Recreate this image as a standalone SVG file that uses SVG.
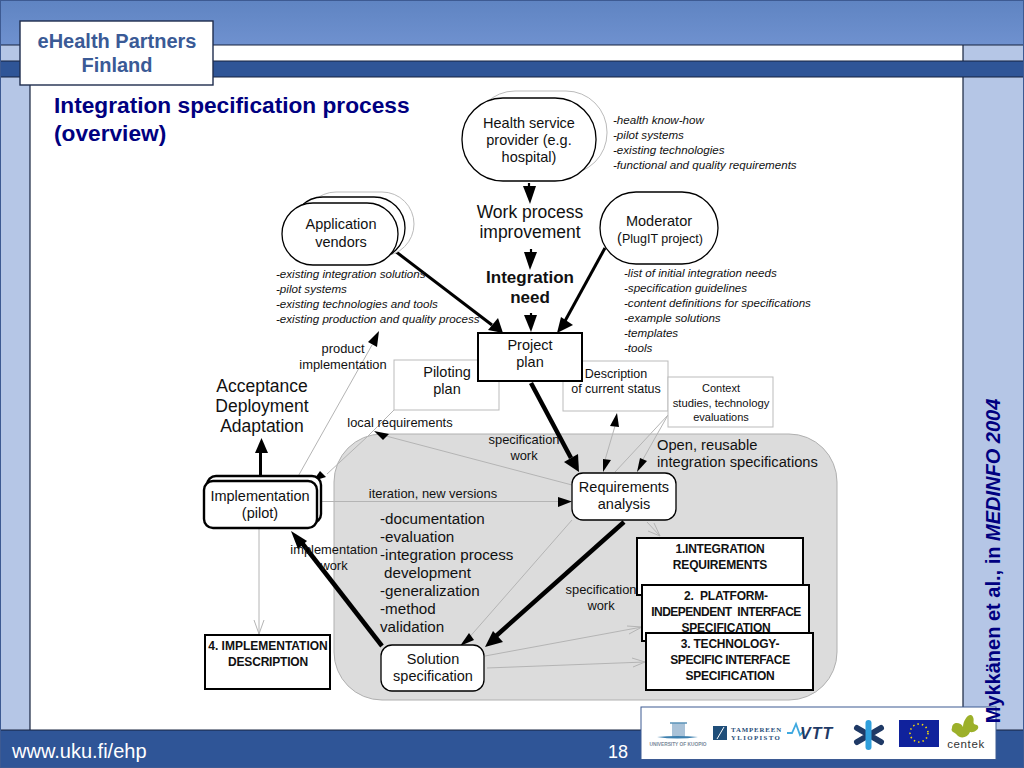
<svg xmlns="http://www.w3.org/2000/svg" width="1024" height="768" viewBox="0 0 1024 768">
<style>
text{font-family:"Liberation Sans",Arial,sans-serif;fill:#111;text-anchor:middle;white-space:pre}
.l{text-anchor:start}
.i{font-size:11.6px;font-style:italic;text-anchor:start}
.s{font-size:12.9px}
.m{font-size:14.5px}
.b{font-size:12px;font-weight:bold;letter-spacing:-.2px}
.big{font-size:17.5px}
.li{font-size:15.2px;text-anchor:start}
.white{fill:#fff;stroke:#000;stroke-width:1.3}
.thick{fill:#fff;stroke:#000;stroke-width:2.4}
.ghost{fill:#fff;stroke:#bbb;stroke-width:1}
.g{fill:none;stroke:#b4b4b4;stroke-width:1}
.k1{fill:none;stroke:#000;stroke-width:2.2}
.k2{fill:none;stroke:#000;stroke-width:3}
.k3{fill:none;stroke:#000;stroke-width:4.5}
.h{fill:#000;stroke:none}
.doc{fill:#fff;stroke:#000;stroke-width:2}
</style>
<defs>
<linearGradient id="top" x1="0" y1="0" x2="0" y2="1"><stop offset="0" stop-color="#5f84c2"/><stop offset="1" stop-color="#6f91cf"/></linearGradient>
</defs>
<g id="frame">
<rect width="1024" height="768" fill="#fff"/>
<rect x="0" y="0" width="30" height="768" fill="#b5c6e6"/>
<rect x="963" y="0" width="61" height="768" fill="#b5c6e6"/>
<rect x="0" y="0" width="1024" height="45" fill="url(#top)"/>
<path d="M0 45H1024M30 77V730M963 45V730" fill="none" stroke="#17233f" stroke-width="1.2"/>
<rect x="0" y="61" width="1024" height="16" fill="#2f5597" stroke="#17233f" stroke-width="1"/>
<rect x="0" y="730" width="1024" height="38" fill="#2f5597"/>
<path d="M0 730H1024" stroke="#17233f" stroke-width="1"/>
<rect x="0.5" y="0.5" width="1023" height="767" fill="none" stroke="#3d5a92"/>
</g>
<g id="title-box">
<rect x="20" y="21" width="193" height="64" fill="#fff" stroke="#1f2d4d" stroke-width="1.4"/>
<text x="117" y="48" font-size="18" font-weight="bold" style="fill:#3a5a96;font-size:20px">eHealth Partners</text>
<text x="117" y="72" font-size="18" font-weight="bold" style="fill:#3a5a96;font-size:20px">Finland</text>
</g>
<text class="l" x="54" y="113" font-size="22.7" font-weight="bold" style="fill:#000080">Integration specification process</text>
<text class="l" x="54" y="141" font-size="22.7" font-weight="bold" style="fill:#000080">(overview)</text>
<text class="l" x="12" y="758" font-size="20" style="fill:#fff">www.uku.fi/ehp</text>
<text x="618" y="758" font-size="18" style="fill:#fff">18</text>

<rect id="work-area" x="334" y="434" width="503" height="266" rx="48" ry="48" fill="#dcdcdc" stroke="#b0b0b0"/>

<g id="connectors">
<path class="g" d="M296 480L372 345"/>
<path class="h" d="M379 331L368 342L377 347Z"/>
<path class="g" d="M394 410L367 437L327 474"/>
<path class="h" d="M313 481L326 477L320 471Z"/>
<path class="g" d="M572 485L386 436"/>
<path class="h" d="M374 431L389 434L383 440Z"/>
<path class="g" d="M320 501.5H560"/>
<path class="h" d="M572 501.5L558 497V507Z"/>
<path class="g" d="M259 528V634"/>
<path class="g" d="M254 620L259 634L264 620"/>
<path class="g" d="M572 520L467 640"/>
<path class="h" d="M460 646L469 633L474 640Z"/>
<path class="g" d="M615 426L605 460"/>
<path class="h" d="M617 413L610 426L619 427Z"/>
<path class="h" d="M603 472L603 459L611 460Z"/>
<path class="g" d="M668 415L615 472"/>
<path class="g" d="M668 415L642 461"/>
<path class="h" d="M637 472L640 458L647 461Z"/>
<path class="g" d="M647 522L660 536M648 531L660 536L654 523"/>
<path class="g" d="M485 656L642 627M627 626L642 627L629 634"/>
<path class="g" d="M487 668L645 662M632 658L645 662L633 667"/>
<g id="black-arrows">
<path class="k1" d="M529 183V189"/><path class="h" d="M523 186H536L530 204Z"/>
<path class="k1" d="M531 249V254"/><path class="h" d="M524 252H537L530 270Z"/>
<path class="k1" d="M531 313V318"/><path class="h" d="M524 315H537L531 332Z"/>
<path class="k2" d="M395 251L492 325"/><path class="h" d="M503 333L488 330L498 318Z"/>
<path class="k2" d="M605 248L565 321"/><path class="h" d="M557 333L561 317L573 325Z"/>
<path class="k3" d="M531 383L571 458"/><path class="h" d="M579 472L564 462L578 454Z"/>
<path class="k3" d="M624 522L496 636"/><path class="h" d="M485 647L493 631L503 642Z"/>
<path class="k3" d="M382 646L302 543"/><path class="h" d="M291 531L307 541L298 549Z"/>
<path class="k2" d="M260.500 480V450"/><path class="h" d="M261.500 438L268 453H255Z"/>
</g>
</g>

<g id="health-provider">
<rect class="ghost" x="474" y="91" width="133" height="83" rx="41" ry="41"/>
<rect class="white" x="462" y="98" width="134" height="83" rx="41" ry="41"/>
<text class="m" x="529" y="128">Health service</text>
<text class="m" x="529" y="145">provider (e.g.</text>
<text class="m" x="529" y="162">hospital)</text>
</g>
<g id="application-vendors">
<rect class="ghost" x="304" y="192" width="110" height="64" rx="32" ry="32"/>
<rect class="white" x="292" y="197" width="113" height="62" rx="31" ry="31"/>
<rect class="white" x="282" y="203" width="116" height="62" rx="31" ry="31"/>
<text class="m" x="341" y="229">Application</text>
<text class="m" x="341" y="247">vendors</text>
</g>
<g id="moderator">
<rect class="white" x="600" y="192" width="118" height="72" rx="36" ry="36"/>
<text class="m" x="659" y="226">Moderator</text>
<text class="m" x="660" y="243">(<tspan font-size="12.500">PlugIT project)</tspan></text>
</g>
<g id="provider-notes">
<text class="i" x="613" y="124">-health know-how</text>
<text class="i" x="613" y="139">-pilot systems</text>
<text class="i" x="613" y="154">-existing technologies</text>
<text class="i" x="613" y="169">-functional and quality requirements</text>
</g>
<g id="vendor-notes">
<text class="i" x="276" y="278">-existing integration solutions</text>
<text class="i" x="276" y="293">-pilot systems</text>
<text class="i" x="276" y="308">-existing technologies and tools</text>
<text class="i" x="276" y="323">-existing production and quality process</text>
</g>
<g id="moderator-notes">
<text class="i" x="624" y="277">-list of initial integration needs</text>
<text class="i" x="624" y="292">-specification guidelines</text>
<text class="i" x="624" y="307">-content definitions for specifications</text>
<text class="i" x="624" y="322">-example solutions</text>
<text class="i" x="624" y="337">-templates</text>
<text class="i" x="624" y="352">-tools</text>
</g>
<text class="big" x="530" y="218">Work process</text>
<text class="big" x="530" y="238">improvement</text>
<text x="530" y="283" font-size="17" font-weight="bold">Integration</text>
<text x="530" y="303" font-size="17" font-weight="bold">need</text>
<g id="piloting-plan">
<rect class="ghost" x="394" y="360" width="105" height="50"/>
<text class="m" x="447" y="377">Piloting</text>
<text class="m" x="447" y="394">plan</text>
</g>
<g id="current-status">
<rect class="ghost" x="563" y="361" width="105" height="50"/>
<text x="616" y="378" font-size="12.5">Description</text>
<text x="616" y="393" font-size="12.5">of current status</text>
</g>
<g id="context">
<rect class="ghost" x="668" y="377" width="105" height="50"/>
<text x="721" y="392" font-size="11">Context</text>
<text x="721" y="407" font-size="11.3">studies, technology</text>
<text x="721" y="421" font-size="11">evaluations</text>
</g>
<g id="project-plan">
<rect fill="#fff" stroke="#000" stroke-width="2" x="478" y="333" width="104" height="48"/>
<text class="m" x="530" y="350">Project</text>
<text class="m" x="530" y="367">plan</text>
</g>
<g id="implementation">
<rect class="thick" x="207" y="476" width="114" height="47" rx="9" ry="9"/>
<rect class="thick" x="204" y="481" width="113" height="47" rx="9" ry="9"/>
<text class="m" x="260" y="501">Implementation</text>
<text class="m" x="260" y="518">(pilot)</text>
</g>
<g id="requirements">
<rect class="white" x="572" y="473" width="104" height="47" rx="11" ry="11"/>
<text class="m" x="624" y="492">Requirements</text>
<text class="m" x="624" y="509">analysis</text>
</g>
<g id="solution">
<rect class="white" x="381" y="645" width="103" height="46" rx="11" ry="11"/>
<text class="m" x="433" y="664">Solution</text>
<text class="m" x="433" y="681">specification</text>
</g>
<g id="doc1">
<rect class="doc" x="637" y="538" width="166" height="57"/>
<text class="b" x="720" y="553">1.INTEGRATION</text>
<text class="b" x="720" y="569">REQUIREMENTS</text>
</g>
<g id="doc2">
<rect class="doc" x="642" y="585" width="167" height="56"/>
<text class="b" x="726" y="600">2.  PLATFORM-</text>
<text class="b" x="726" y="616" style="letter-spacing:-.5px">INDEPENDENT  INTERFACE</text>
<text class="b" x="726" y="632">SPECIFICATION</text>
</g>
<g id="doc3">
<rect class="doc" x="646" y="633" width="167" height="57"/>
<text class="b" x="730" y="648">3. TECHNOLOGY-</text>
<text class="b" x="730" y="664" style="letter-spacing:-.4px">SPECIFIC INTERFACE</text>
<text class="b" x="730" y="680">SPECIFICATION</text>
</g>
<g id="doc4">
<rect class="doc" x="205" y="635" width="125" height="54"/>
<text class="b" x="268" y="650" style="letter-spacing:0">4. IMPLEMENTATION</text>
<text class="b" x="268" y="666">DESCRIPTION</text>
</g>
<g id="labels">
<text class="s" x="343" y="353">product</text>
<text class="s" x="343" y="369">implementation</text>
<text class="big" x="262" y="392">Acceptance</text>
<text class="big" x="262" y="412">Deployment</text>
<text class="big" x="262" y="432">Adaptation</text>
<text class="s" x="400" y="427">local requirements</text>
<text class="s" x="524" y="444">specification</text>
<text class="s" x="524" y="460">work</text>
<text class="s" x="433" y="498">iteration, new versions</text>
<text class="s" x="334" y="554">implementation</text>
<text class="s" x="334" y="570">work</text>
<text class="s" x="601" y="594">specification</text>
<text class="s" x="601" y="610">work</text>
<text class="l" x="657" y="450" font-size="14.7">Open, reusable</text>
<text class="l" x="657" y="467" font-size="14.7">integration specifications</text>
<text class="li" x="380" y="524">-documentation</text>
<text class="li" x="380" y="542">-evaluation</text>
<text class="li" x="380" y="560">-integration process</text>
<text class="li" x="384" y="578">development</text>
<text class="li" x="380" y="596">-generalization</text>
<text class="li" x="380" y="614">-method</text>
<text class="li" x="380" y="632">validation</text>
</g>
<g id="logos">
<rect x="641" y="707" width="355" height="52.500" fill="#fff" stroke="#3d5a92" stroke-width="1"/>
<rect x="672" y="723" width="13" height="14" fill="#a9c2d8"/>
<path d="M670 723H687" stroke="#5b93b8" stroke-width="1.500"/>
<path d="M657 737Q677 735 698 737Q677 740 657 737Z" fill="#3d7fae"/>
<text x="678" y="746" font-size="4.8" font-weight="bold" style="fill:#7a8a9a">UNIVERSITY OF KUOPIO</text>
<rect x="713" y="726" width="14" height="14" fill="#1f4e79"/>
<path d="M717 739L724 727" stroke="#fff" fill="none"/>
<text class="l" x="731" y="732" font-size="6.8" font-weight="bold" style="fill:#1f4e79;font-family:'Liberation Serif',serif;letter-spacing:.9px">TAMPEREEN</text>
<text class="l" x="731" y="740" font-size="6.8" font-weight="bold" style="fill:#1f4e79;font-family:'Liberation Serif',serif;letter-spacing:1.4px">YLIOPISTO</text>
<path d="M787 733L792 733L796 724L800 735L804 731" fill="none" stroke="#3fa9e0" stroke-width="1.800"/>
<text class="l" x="800" y="739" font-size="16" font-weight="bold" font-style="italic" style="fill:#1f3a66;letter-spacing:1px">VTT</text>
<path d="M857 728L881 742M881 728L857 742" stroke="#1f3a66" stroke-width="6" stroke-linecap="round"/>
<path d="M868.500 723V747" stroke="#2f9fdc" stroke-width="6" stroke-linecap="round"/>
<rect x="899" y="720" width="40" height="27" fill="#10229c"/>
<circle cx="919" cy="733" r="9" fill="none" stroke="#f5d90a" stroke-width="1.6" stroke-dasharray="1.5 3"/>
<path d="M952 728C952 721 961 722 963 727C963 720 970 711 973 717C975 721 971 724 977 725C981 728 975 733 970 732C968 738 960 739 957 735C955 732 950 732 952 728Z" fill="#9cb02a"/>
<text x="966" y="748" font-size="11.500" style="fill:#333;letter-spacing:.6px">centek</text>
</g>
<text x="1000" y="561" font-size="20" font-weight="bold" transform="rotate(-90 1000 561)" style="fill:#000080">Mykkänen et al., in <tspan font-style="italic">MEDINFO 2004</tspan></text>
</svg>
